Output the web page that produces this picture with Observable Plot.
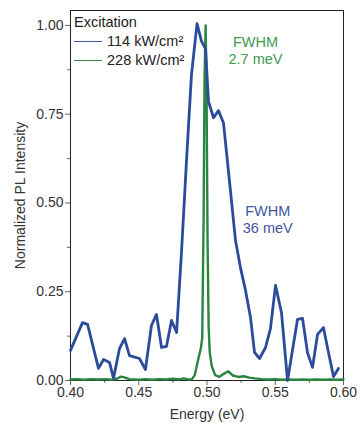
<!DOCTYPE html>
<html>
<head>
<meta charset="utf-8">
<script src="https://cdn.jsdelivr.net/npm/d3@7"></script>
<script src="https://cdn.jsdelivr.net/npm/@observablehq/plot@0.6"></script>
<style>
  html, body { margin: 0; padding: 0; background: #fff; }
  #wrap { position: relative; width: 360px; height: 423px; font-family: "Liberation Sans", Arial, sans-serif; }
  #legend { position: absolute; left: 74px; top: 13px; font-size: 14.5px; line-height: 19px; color: #222; }
  #legend .row { display: flex; align-items: center; white-space: nowrap; }
  #legend .sw { width: 28px; height: 0; border-top: 1.4px solid; margin-right: 5px; }
</style>
</head>
<body>
<div id="wrap">
  <div id="legend"></div>
</div>
<script>
// Blue series: 114 kW/cm^2
const energyBlue = [0.4000,0.4088,0.4125,0.4205,0.4242,0.4286,0.4315,0.4359,0.4396,0.4432,0.4470,0.4505,0.4549,0.4593,0.4630,0.4667,0.4703,0.4740,0.4777,0.4813,0.4850,0.4886,0.4927,0.4960,0.4989,0.5011,0.5048,0.5084,0.5121,0.5165,0.5209,0.5245,0.5282,0.5319,0.5348,0.5385,0.5429,0.5465,0.5502,0.5546,0.5590,0.5663,0.5700,0.5736,0.5773,0.5810,0.5853,0.5890,0.5927,0.5963];
const intensityBlue = [0.085,0.163,0.158,0.034,0.059,0.051,0.006,0.090,0.118,0.070,0.066,0.062,0.031,0.155,0.186,0.093,0.096,0.169,0.135,0.360,0.620,0.860,1.005,0.955,0.935,0.785,0.740,0.760,0.725,0.560,0.394,0.318,0.254,0.177,0.079,0.062,0.093,0.146,0.268,0.190,0.000,0.172,0.175,0.079,0.037,0.130,0.149,0.079,0.011,0.034];

// Green series: 228 kW/cm^2
const energyGreen = [0.400,0.405,0.410,0.415,0.420,0.425,0.430,0.434,0.437,0.440,0.443,0.447,0.450,0.455,0.460,0.465,0.470,0.475,0.480,0.483,0.486,0.489,0.491,0.493,0.4945,0.4955,0.4965,0.4975,0.4982,0.4990,0.4997,0.5004,0.5012,0.5020,0.5035,0.5060,0.5090,0.5120,0.5155,0.5190,0.5230,0.5270,0.5310,0.5350,0.5400,0.5450,0.5500,0.5550,0.5600,0.5650,0.5700,0.5750,0.5800,0.5850,0.5900,0.5950,0.6000];
const intensityGreen = [0.003,0.004,0.002,0.004,0.003,0.004,0.002,0.005,0.011,0.008,0.004,0.003,0.002,0.004,0.002,0.004,0.003,0.005,0.003,0.006,0.003,0.004,0.015,0.050,0.075,0.090,0.120,0.450,0.850,1.000,0.800,0.400,0.150,0.080,0.040,0.015,0.010,0.018,0.026,0.014,0.010,0.012,0.008,0.006,0.004,0.003,0.004,0.002,0.003,0.002,0.003,0.002,0.003,0.002,0.003,0.002,0.003];

const seriesNames = ["114 kW/cm²", "228 kW/cm²"];
const seriesColors = ["#2d4b9b", "#2a8540"];
const legendColors = ["#4a5aa8", "#3d7f4f"];
const legendTitle = "Excitation";
const xMajorTicks = [0.40, 0.45, 0.50, 0.55, 0.60];
const xMinorTicks = [0.425, 0.475, 0.525, 0.575];
const yMajorTicks = [0.00, 0.25, 0.50, 0.75, 1.00];
const yMinorTicks = [0.125, 0.375, 0.625, 0.875];
const annotations = [
  {x: 0.5355, y: 0.93, text: "FWHM\n2.7 meV", color: "#3f9a52"},
  {x: 0.5445, y: 0.455, text: "FWHM\n36 meV", color: "#4456a3"}
];

const blue = energyBlue.map((e, i) => ({e, v: intensityBlue[i]}));
const green = energyGreen.map((e, i) => ({e, v: intensityGreen[i]}));

const font = {fontFamily: "Liberation Sans, Arial, sans-serif", fontSize: "14px", color: "#333", background: "transparent"};

const chart = Plot.plot({
  width: 360,
  height: 423,
  marginTop: 10,
  marginBottom: 43,
  marginLeft: 70,
  marginRight: 17,
  style: font,
  x: {domain: [0.4, 0.6]},
  y: {domain: [0, 1.042]},
  marks: [
    Plot.axisY({ticks: yMajorTicks, tickFormat: ".2f", tickSize: 5, tickPadding: 2, stroke: "#666", label: "Normalized PL Intensity", labelAnchor: "center", labelArrow: "none", labelOffset: 55, fontSize: 14}),
    Plot.axisY({ticks: yMinorTicks, tickSize: 3, text: null, label: null, stroke: "#666"}),
    Plot.axisX({ticks: xMajorTicks, tickFormat: ".2f", tickSize: 5, tickPadding: 2, stroke: "#666", label: "Energy (eV)", labelAnchor: "center", labelArrow: "none", labelOffset: 38, fontSize: 14}),
    Plot.axisX({ticks: xMinorTicks, tickSize: 3, text: null, label: null, stroke: "#666"}),
    Plot.frame({stroke: "#222", strokeWidth: 1}),
    Plot.line(green, {x: "e", y: "v", stroke: seriesColors[1], strokeWidth: 2.4, strokeLinejoin: "round"}),
    Plot.line(blue, {x: "e", y: "v", stroke: seriesColors[0], strokeWidth: 2.8, strokeLinejoin: "round"}),
    Plot.text(annotations, {x: "x", y: "y", text: "text", fill: "color", fontSize: 14.5, lineHeight: 1.15, textAnchor: "middle"})
  ]
});

const wrap = document.getElementById("wrap");
wrap.insertBefore(chart, wrap.firstChild);

const legend = document.getElementById("legend");
const title = document.createElement("div");
title.textContent = legendTitle;
legend.appendChild(title);
seriesNames.forEach((name, i) => {
  const row = document.createElement("div");
  row.className = "row";
  const sw = document.createElement("span");
  sw.className = "sw";
  sw.style.borderTopColor = legendColors[i];
  const lab = document.createElement("span");
  lab.textContent = name;
  row.appendChild(sw);
  row.appendChild(lab);
  legend.appendChild(row);
});
</script>
</body>
</html>
